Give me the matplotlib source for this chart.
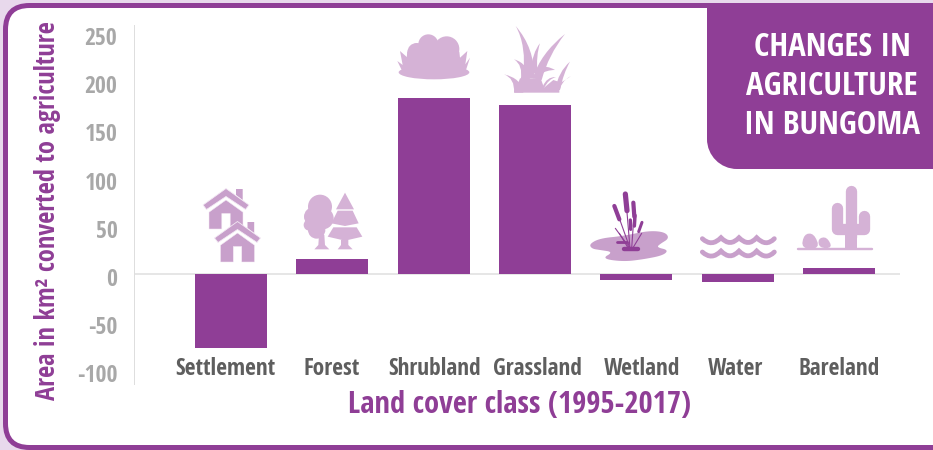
import numpy as np
import matplotlib
matplotlib.use("Agg")
import matplotlib.pyplot as plt
from matplotlib import font_manager as fm
from matplotlib.patches import PathPatch, FancyBboxPatch, Circle, Ellipse, Polygon
from matplotlib.path import Path
from matplotlib.transforms import ScaledTranslation

categories = ["Settlement", "Forest", "Shrubland", "Grassland", "Wetland", "Water", "Bareland"]
area_change = [-77, 16, 183, 175, -6, -8, 6]
y_ticks = [250, 200, 150, 100, 50, 0, -50, -100]
title_lines = ["CHANGES IN", "AGRICULTURE", "IN BUNGOMA"]
y_title = "Area in km² converted to agriculture"
x_title = "Land cover class (1995-2017)"

PURPLE = "#8F3E96"
ICON = "#D5B2D6"
ICON_DARK = "#C8A0CB"
PALE = "#E8D9EC"

# First condensed bold family that is available, DejaVu for anything it lacks
installed = {f.name for f in fm.fontManager.ttflist}
preferred = ["Open Sans Condensed", "Fira Sans Condensed", "IBM Plex Sans Condensed", "Saira Condensed"]
FONT = [n for n in preferred if n in installed][:1] + ["DejaVu Sans"]
HEAVY = 800

W, H = 933, 450
fig = plt.figure(figsize=(W / 100, H / 100), dpi=100, facecolor=PALE)
px = 0.72  # one pixel in points at this dpi

# Backdrop layer in pixel coordinates: frame, corner panel and pictograms
bg = fig.add_axes([0, 0, 1, 1], zorder=0)
bg.set_xlim(0, W)
bg.set_ylim(H, 0)
bg.axis("off")

bg.add_patch(FancyBboxPatch((5.5, 5.5), 1000, 442,
                            boxstyle="round,pad=0,rounding_size=24",
                            fc="white", ec=PURPLE, lw=5 * px))


def rounded_panel(x0, y0, x1, y1, r):
    k = 0.5523 * r
    verts = [(x0, y0), (x1, y0), (x1, y1), (x0 + r, y1),
             (x0 + r - k, y1), (x0, y1 - r + k), (x0, y1 - r), (x0, y0)]
    codes = [Path.MOVETO, Path.LINETO, Path.LINETO, Path.LINETO,
             Path.CURVE4, Path.CURVE4, Path.CURVE4, Path.CLOSEPOLY]
    return Path(verts, codes)


bg.add_patch(PathPatch(rounded_panel(707, 6, 935, 169, 30), fc=PURPLE, ec="none"))
for line, yc in zip(title_lines, [47, 86.5, 125]):
    bg.text(832, yc, line, color="white", fontsize=23.8, fontweight=HEAVY,
            family=FONT, ha="center", va="center")


# Icon helpers: local drawing units are a third of a pixel around an origin
def mapper(ox, oy):
    return lambda pts: [(ox + x / 3, oy + y / 3) for x, y in pts]


def chaikin(pts, rounds=3):
    pts = np.asarray(pts, float)
    for _ in range(rounds):
        nxt = np.roll(pts, -1, axis=0)
        pts = np.column_stack([0.75 * pts + 0.25 * nxt, 0.25 * pts + 0.75 * nxt]).reshape(-1, 2)
    return pts


def poly(pts, color, **kw):
    bg.add_patch(Polygon(pts, closed=True, fc=color, ec=kw.pop("ec", "none"), **kw))


def stroke(pts, color, width):
    xs, ys = zip(*pts)
    bg.plot(xs, ys, color=color, lw=width * px, solid_capstyle="round", solid_joinstyle="round")


def blade(m, a, ca, tip, cb, b, color):
    verts = m([a, ca, tip, cb, b, a])
    codes = [Path.MOVETO, Path.CURVE3, Path.CURVE3, Path.CURVE3, Path.CURVE3, Path.CLOSEPOLY]
    bg.add_patch(PathPatch(Path(verts, codes), fc=color, ec="none"))


def house(ax_, ay):
    rel = lambda pts: [(ax_ + x, ay + y) for x, y in pts]
    chimney = [(10, 0), (16.7, 0), (16.7, 11), (10, 6)]
    poly(rel(chimney), ICON_DARK)
    roof = [(0, -0.5), (23, 16), (19.5, 20.5), (0, 7.5), (-19.5, 20.5), (-23, 16)]
    poly(rel(roof), ICON_DARK, ec="#F4EAF5", lw=0.8 * px, zorder=3)
    body = [(0, 11), (17, 23.2), (17, 40), (4.2, 40), (4.2, 24.5), (-4.2, 24.5),
            (-4.2, 40), (-17, 40), (-17, 23.2)]
    poly(rel(body), ICON_DARK, ec="#F4EAF5", lw=0.5 * px, zorder=3)


# Settlement pictogram
house(226, 189)
house(237.5, 222)

# Forest pictogram: broadleaf tree beside a conifer
m = mapper(170, 170)
for (cx, cy), r in zip(m([(450, 110), (430, 140), (458, 145), (418, 165), (440, 180)]),
                       [36 / 3, 28 / 3, 33 / 3, 17 / 3, 26 / 3]):
    bg.add_patch(Circle((cx, cy), r, fc=ICON, ec="none"))
poly(m([(433, 238), (478, 238), (465, 225), (463, 195), (447, 195), (445, 225)]), ICON)
poly(m([(525, 68), (552, 118), (498, 118)]), ICON)
poly(m([(503, 122), (548, 122), (566, 160), (525, 168), (484, 160)]), ICON)
poly(m([(490, 172), (560, 172), (577, 200), (525, 212), (473, 200)]), ICON)
poly(m([(513, 210), (535, 210), (535, 225), (548, 238), (503, 238), (513, 225)]), ICON)

# Shrubland pictogram
m = mapper(390, 15)
for (cx, cy), r in zip(m([(115, 88), (170, 102), (80, 112)]), [30 / 3, 38 / 3, 28 / 3]):
    bg.add_patch(Circle((cx, cy), r, fc=ICON, ec="none"))
bg.add_patch(Ellipse(m([(132, 172)])[0], 212 / 3, 42 / 3, fc=ICON, ec="none"))
poly(m([(52, 110), (208, 110), (215, 175), (45, 175)]), ICON)
poly(m([(30, 108), (55, 130), (55, 170), (35, 165), (22, 138), (38, 150)]), ICON)
poly(m([(232, 108), (208, 130), (208, 170), (228, 165), (240, 128), (226, 148)]), ICON)

# Grassland pictogram
poly(m([(373, 233), (508, 233), (505, 200), (490, 195), (462, 218), (452, 190), (390, 190)]), ICON)
blade(m, (400, 190), (410, 90), (377, 33), (435, 100), (432, 190), ICON)
blade(m, (428, 190), (452, 115), (525, 57), (475, 120), (455, 195), ICON)
blade(m, (420, 175), (428, 110), (450, 85), (438, 120), (442, 175), ICON)
blade(m, (392, 195), (400, 150), (372, 133), (415, 145), (420, 195), ICON)
blade(m, (372, 233), (375, 190), (342, 178), (395, 190), (400, 233), ICON)
blade(m, (450, 158), (470, 150), (495, 165), (470, 165), (450, 178), ICON)
blade(m, (495, 225), (505, 170), (540, 140), (520, 175), (510, 225), ICON)
blade(m, (508, 233), (510, 200), (543, 183), (520, 200), (508, 205), ICON)
blade(m, (458, 215), (470, 185), (498, 186), (475, 192), (462, 220), ICON)

# Wetland pictogram: pond with reeds
m = mapper(580, 170)
pond = [(28, 222), (60, 205), (130, 198), (205, 182), (255, 186), (268, 205), (240, 222), (230, 232),
        (265, 240), (250, 256), (190, 268), (130, 275), (65, 266), (100, 246), (60, 240), (35, 236)]
poly(chaikin(m(pond)), ICON_DARK)
for a, b in [((150, 235), (140, 115)), ((150, 235), (118, 145)), ((155, 235), (162, 135)),
             ((150, 235), (106, 175)), ((158, 235), (185, 190)), ((145, 235), (118, 190))]:
    stroke(m([a, b]), PURPLE, 1.1)
stroke(m([(136, 72), (141, 122)]), PURPLE, 5.2)
stroke(m([(103, 108), (118, 148)]), PURPLE, 4.2)
stroke(m([(160, 98), (163, 140)]), PURPLE, 4.2)
stroke(m([(165, 136), (163, 168)]), PURPLE, 3.5)
stroke(m([(151, 150), (152, 178)]), PURPLE, 3.3)
stroke(m([(186, 157), (176, 185)]), PURPLE, 3)
stroke(m([(133, 238), (174, 238)]), PURPLE, 4.4)
stroke(m([(112, 217), (142, 217)]), PURPLE, 2.8)

# Water pictogram: two rows of scalloped waves
for dy in (0, 40):
    crest = [(367, 206), (395, 232), (423, 203), (450, 232), (477, 203), (505, 232), (530, 203),
             (558, 232), (583, 206)]
    pts = m([(x, y + dy) for x, y in crest])
    codes = [Path.MOVETO] + [Path.CURVE3] * (len(pts) - 1)
    bg.add_patch(PathPatch(Path(pts, codes), fc="none", ec=ICON_DARK, lw=4.8 * px,
                           capstyle="round", joinstyle="miter"))

# Bareland pictogram: cactus, rocks and ground line
stroke(m([(813, 62), (813, 200)]), ICON, 11.3)
poly(m([(796, 190), (830, 190), (830, 238), (796, 238)]), ICON)
stroke(m([(770, 114), (770, 178), (852, 178), (852, 138)]), ICON, 11.3)
stroke(m([(654, 238), (875, 238)]), ICON, 2.4)
poly(chaikin(m([(664, 236), (672, 192), (702, 190), (720, 236)]), 2), ICON)
poly(chaikin(m([(714, 206), (740, 200), (758, 234), (718, 234)]), 2), ICON)

# Chart axes, placed so the bars fall on the frame's inner area
left, right, top, bottom = 133.5, 900, 25, 384
ax = fig.add_axes([left / W, 1 - bottom / H, (right - left) / W, (bottom - top) / H], zorder=1)
ax.patch.set_alpha(0)
unit = 0.9635  # pixels per km²
zero_px = 274.0
ax.set_ylim((zero_px - bottom) / unit, (zero_px - top) / unit)
step = 101.33
ax.set_xlim((left - 231) / step, (right - 231) / step)

ax.bar(range(len(categories)), area_change, width=72 / step, color=PURPLE, zorder=2)
ax.axhline(0, color="#DEDEDE", lw=1.5 * px, zorder=1)
for side in ("top", "right", "bottom"):
    ax.spines[side].set_visible(False)
ax.spines["left"].set_color("#DEDEDE")
ax.spines["left"].set_linewidth(1 * px)

ax.set_yticks(y_ticks)
ax.set_yticklabels([str(v) for v in y_ticks], family=FONT, fontweight=HEAVY,
                   fontsize=17, color="#A8A8A8")
ax.tick_params(axis="y", length=0, pad=16 * px)
ax.set_xticks(range(len(categories)))
ax.set_xticklabels(categories, family=FONT, fontweight=HEAVY, fontsize=16.8, color="#5E5E5E")
ax.tick_params(axis="x", length=0, pad=0)

# Nudge value labels slightly below their gridline position
shift = ScaledTranslation(0, -3 / 100, fig.dpi_scale_trans)
for lbl in ax.get_yticklabels():
    lbl.set_transform(lbl.get_transform() + shift)
# Category labels sit just above the lower end of the value axis, a little off-centre
label_nudge_px = [-5.5, -1, 1, 2, 6, -2, 0]
for lbl, dx in zip(ax.get_xticklabels(), label_nudge_px):
    lbl.set_transform(lbl.get_transform() + ScaledTranslation(dx / 100, 27 / 100, fig.dpi_scale_trans))

bg.text(48, 211, y_title, rotation=90, color=PURPLE, fontsize=19, fontweight=HEAVY,
        family=FONT, ha="center", va="center")
bg.text(519, 405, x_title, color=PURPLE, fontsize=22, fontweight=HEAVY,
        family=FONT, ha="center", va="center")

fig.savefig("out.png", dpi=100, facecolor=fig.get_facecolor())
